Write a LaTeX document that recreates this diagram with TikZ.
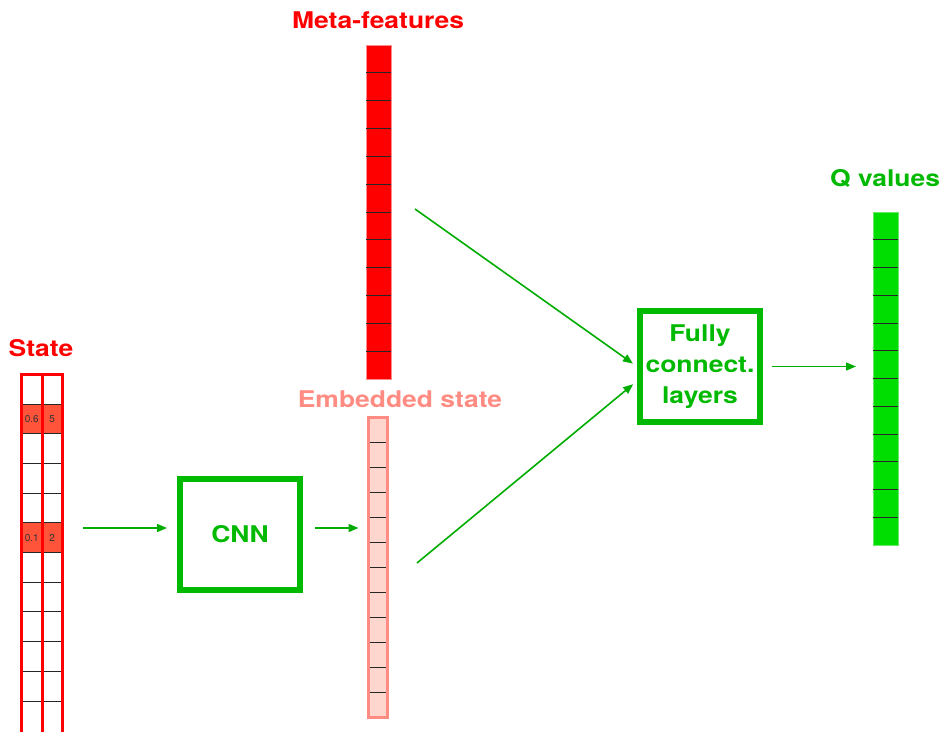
\documentclass[tikz,border=0pt]{standalone}
\usepackage{fontspec}
\setmainfont{TeX Gyre Heros}
\newfontfamily\widefont{TeX Gyre Heros}[FakeStretch=1.15]
\usetikzlibrary{calc, arrows.meta, positioning}

\definecolor{statered}{RGB}{255,0,0}
\definecolor{cellred}{RGB}{255,84,58}
\definecolor{embfill}{RGB}{255,214,206}
\definecolor{embline}{RGB}{255,140,130}
\definecolor{qgreen}{RGB}{0,221,0}
\definecolor{boxgreen}{RGB}{0,185,0}
\definecolor{arrgreen}{RGB}{0,172,0}

\begin{document}
\begin{tikzpicture}[x=1pt,y=-1pt,
        lbl/.style={font=\widefont\fontsize{23}{28}\bfseries},
        bar/.style={rectangle, inner sep=0pt, outer sep=0pt},
        cellline/.style={draw=black!85, line width=0.8pt},
        netbox/.style={rectangle, draw=boxgreen, line width=6pt, minimum width=120pt,
            minimum height=111pt, inner sep=0pt, align=center, text=boxgreen,
            font=\widefont\fontsize{23}{31}\bfseries},
        arr/.style={draw=arrgreen, line width=1.6pt, -{Triangle[length=10pt,width=8pt]}}]
        \useasboundingbox (0,0) rectangle (942,731);

        %\draw[help lines] (0,0) grid[step=50] (942,731);

        % state (two columns, 12 rows)
        \fill[cellred] (21.5,404) rectangle (62.5,434);
        \fill[cellred] (21.5,523) rectangle (62.5,553);
        \foreach \i in {1,...,11}
            \draw[cellline] (23,374.2+\i*29.7) -- (61,374.2+\i*29.7);
        \node[bar, draw=statered, line width=3pt, minimum width=20.5pt, minimum height=380pt,
            anchor=north west] (stateA) at (21.5,374.2) {};
        \node[bar, draw=statered, line width=3pt, minimum width=20.5pt, minimum height=380pt,
            anchor=north west] (stateB) at (42,374.2) {};
        \node [font=\fontsize{10}{12}\selectfont, text=black!80] at (31.8,419) {0.6};
        \node [font=\fontsize{10}{12}\selectfont, text=black!80] at (52.2,419) {5};
        \node [font=\fontsize{10}{12}\selectfont, text=black!80] at (31.8,538) {0.1};
        \node [font=\fontsize{10}{12}\selectfont, text=black!80] at (52.2,538) {2};
        \node [lbl, text=statered] (statelbl) at (41,348) {State};

        % meta-features
        \node[bar, fill=statered, draw=statered!45, line width=0.8pt, minimum width=25pt,
            minimum height=334pt] (meta) at (378.5,212) {};
        \foreach \i in {1,...,11}
            \draw[cellline] ($(meta.north west)+(0,\i*27.83)$) -- ++(25,0);
        \node [lbl, text=statered] (metalbl) at (378,20) {Meta-features};

        % embedded state
        \node[bar, fill=embfill, draw=embline, line width=3pt, minimum width=19pt,
            minimum height=300pt] (emb) at (378,567.5) {};
        \foreach \i in {1,...,11}
            \draw[cellline] ($(emb.north west)+(1.5,\i*25)$) -- ++(16,0);
        \node [lbl, text=embline] (emblbl) at (400,399) {Embedded state};

        % Q values
        \node[bar, fill=qgreen, draw=qgreen!60, line width=0.8pt, minimum width=25pt,
            minimum height=333pt] (q) at (885.5,378.5) {};
        \foreach \i in {1,...,11}
            \draw[cellline] ($(q.north west)+(0,\i*27.75)$) -- ++(25,0);
        \node [lbl, text=boxgreen] (qlbl) at (885,178) {Q values};

        % boxes
        \node[netbox] (cnn) at (240,534.5) {CNN};
        \node[netbox] (fc) at (700,366.5) {Fully\\connect.\\layers};

        % arrows
        \coordinate (stateout) at (83,528);
        \coordinate (metaout) at (415,209);
        \coordinate (embout) at (417,563);
        \draw[arr, shorten >=10pt] (stateout) -- (stateout -| cnn.west);
        \draw[arr, shorten >=10pt] ($(cnn.east |- stateout)+(12,0)$) -- (stateout -| emb.west);
        \draw[arr, shorten >=5pt] (metaout) -- (fc.west);
        \draw[arr, shorten >=5pt] (embout) -- ($(fc.west)+(0,14.5)$);
        \draw[arr, shorten >=17pt] ($(fc.east)+(9,0)$) -- (fc.east -| q.west);
\end{tikzpicture}
\end{document}
